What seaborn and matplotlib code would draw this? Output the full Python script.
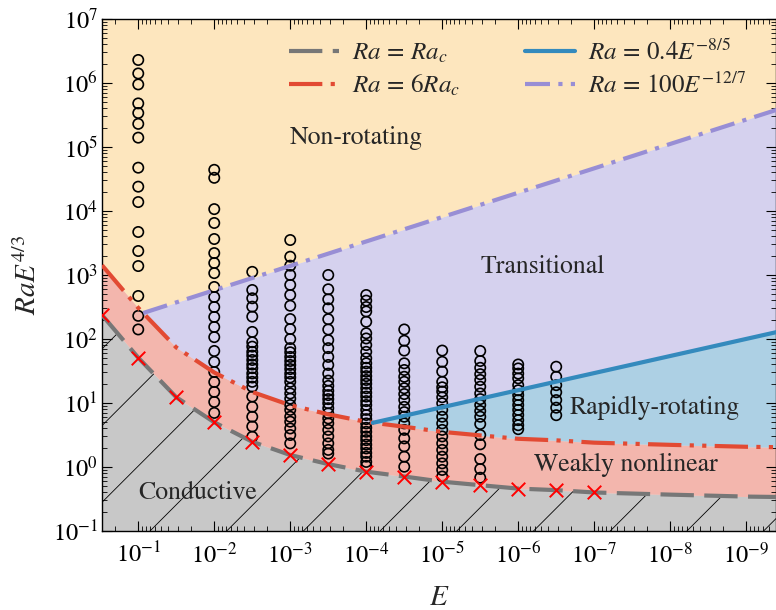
import numpy as np
import pandas as pd
import matplotlib
matplotlib.use("Agg")
import matplotlib.pyplot as plt
import seaborn as sns
from matplotlib.lines import Line2D
from matplotlib.ticker import NullFormatter

# ---------------- data ----------------
# Simulation columns: Ekman number and Ra*E^(4/3) of each run
E_cols = [1e-1, 1e-2, 3.16e-3, 1e-3, 3.16e-4, 1e-4, 3.16e-5, 1e-5, 3.16e-6, 1e-6, 3.16e-7]
y_cols = [
    [2.29e6, 1.41e6, 9.5e5, 4.8e5, 3.4e5, 2.3e5, 1.4e5, 4.75e4, 2.4e4, 1.38e4,
     4.7e3, 2.37e3, 1.38e3, 470, 230, 141],
    [4.4e4, 3.3e4, 1.07e4, 6.5e3, 3.65e3, 2.2e3, 1.54e3, 1.07e3, 650, 453, 316,
     221, 154, 107, 65, 44, 30.5, 21.3, 14.9, 10.4, 7.0],
    [1120, 583, 433, 320, 224, 129, 89, 76, 63, 55, 47, 40, 35, 29, 25, 21.4,
     18, 12.6, 8.7, 6.1, 4.3, 2.97],
    [3520, 1930, 1400, 1000, 700, 487, 331, 205, 143, 100, 72, 62, 52.5, 45.3,
     39.3, 33.9, 28.8, 25.1, 21.4, 17, 14.1, 11.7, 9.3, 7.8, 6.1, 5.1, 4.0,
     3.16, 2.34],
    [1000, 598, 417, 302, 204, 141, 96, 72, 52.5, 39.3, 28.8, 22.4, 18.5, 15.5,
     13.3, 11.5, 9.9, 8.3, 6.9, 5.75, 4.8, 3.8, 3.0, 2.34, 1.85, 1.62],
    [487, 398, 316, 269, 186, 123, 102, 80.5, 63, 50, 41.7, 35.5, 30.9, 26.3,
     22.9, 20, 17, 14.5, 12.6, 10.7, 9.3, 7.8, 6.5, 5.6, 4.8, 4.1, 3.55, 3.0,
     2.63, 2.24, 1.95, 1.66, 1.45, 1.2, 1.04],
    [141, 94, 66, 41.7, 32.8, 25.7, 21.4, 17, 13.8, 11.2, 8.7, 7.2, 6.1, 4.8,
     3.8, 2.8, 2.1, 1.45, 1.01],
    [66, 44, 31, 21.4, 17.6, 15.1, 12.3, 9.9, 7.8, 6.1, 4.8, 3.8, 3.0, 2.34,
     1.85, 1.45, 1.14, 0.9, 0.71],
    [65, 45.3, 35.5, 28.2, 22.9, 18, 14.1, 11.5, 9.3, 7.5, 6.1, 4.7, 3.16, 2.26,
     1.33, 0.93, 0.68],
    [40, 34.7, 28.8, 24.3, 19, 15.8, 13.3, 11.1, 9.3, 7.8, 6.5, 5.4, 4.5, 3.9],
    [36.9, 25.7, 19, 14.7, 11.1, 8.45, 6.45],
]

# Critical Rayleigh number (linear onset) markers
E_crit = [3e-1, 1e-1, 3.16e-2, 1e-2, 3.16e-3, 1e-3, 3.16e-4, 1e-4, 3.16e-5,
          1e-5, 3.16e-6, 1e-6, 3.16e-7, 1e-7]
y_crit = [237, 51, 12.3, 5.0, 2.48, 1.54, 1.11, 0.845, 0.71, 0.59, 0.52, 0.46,
          0.435, 0.40]

# Ra = Ra_c curve
E_rac = [3e-1, 1e-1, 3.16e-2, 1e-2, 3.16e-3, 1e-3, 3.16e-4, 1e-4, 3.16e-5,
         1e-5, 3.16e-6, 1e-6, 3.16e-7, 1e-7, 1e-8, 1e-9, 4e-10]
y_rac = [237, 51, 12.3, 5.0, 2.48, 1.54, 1.11, 0.845, 0.71, 0.59, 0.52, 0.46,
         0.435, 0.40, 0.37, 0.345, 0.34]
mult_6 = 6.0

# Ra = 0.4 E^(-8/5) (rapidly rotating bound), drawn above the 6Ra_c curve
E_blue = [8.2e-5, 4e-10]
y_blue = [4.9, 128]
# Ra = 100 E^(-12/7) (transitional bound)
E_purple = [8.6e-2, 4e-10]
y_purple = [255, 3.8e5]

# Region labels
region_names = ["Non-rotating", "Transitional", "Rapidly-rotating",
                "Weakly nonlinear", "Conductive"]
region_E = [1e-3, 4.7e-7, 1.6e-8, 3.8e-8, 1.67e-2]
region_y = [1.4e5, 1.33e3, 8.3, 1.07, 0.39]
region_ha = ["left", "center", "center", "center", "center"]

xlim = (0.3, 4.05e-10)
ylim = (0.1, 1e7)

# ---------------- style ----------------
sns.set_theme(style="ticks")
plt.rcParams.update({
    "font.family": ["STIXGeneral", "DejaVu Serif"],
    "mathtext.fontset": "stix",
    "xtick.direction": "in", "ytick.direction": "in",
    "xtick.top": True, "ytick.right": True,
    "xtick.minor.visible": True, "ytick.minor.visible": True,
    "xtick.major.size": 7, "ytick.major.size": 7,
    "xtick.minor.size": 3.5, "ytick.minor.size": 3.5,
    "xtick.major.width": 0.8, "ytick.major.width": 0.8,
    "xtick.minor.width": 0.6, "ytick.minor.width": 0.6,
    "xtick.major.pad": 8, "ytick.major.pad": 3,
    "xtick.color": "black", "ytick.color": "black",
    "axes.edgecolor": "black", "axes.linewidth": 1.0,
    "xtick.labelsize": 17.5, "ytick.labelsize": 17.5,
})

C_RED = "#E24A33"
C_BLUE = "#348ABD"
C_PURP = "#988ED5"
C_GRAY = "#777777"
C_YEL = "#FBC15E"
ALPHA = 0.4

fig = plt.figure(figsize=(7.76, 6.10), dpi=100)
ax = fig.add_axes([102 / 776, 1 - 531 / 610, 674 / 776, 512 / 610])
ax.set_xscale("log")
ax.set_yscale("log")
ax.set_xlim(*xlim)
ax.set_ylim(*ylim)
ax.xaxis.set_minor_formatter(NullFormatter())
ax.yaxis.set_minor_formatter(NullFormatter())

# ---------------- region fills ----------------
lx = np.linspace(np.log10(xlim[0]), np.log10(xlim[1]), 800)
Eg = 10 ** lx

def logi(Ex, yx):
    return 10 ** np.interp(-lx, -np.log10(Ex), np.log10(yx))

rac_g = logi(E_rac, y_rac)
rac6_g = mult_6 * rac_g
blue_g = logi(E_blue, y_blue)
purp_g = logi(E_purple, y_purple)
low_bound = np.maximum(blue_g, rac6_g)
trans_top = np.maximum(purp_g, low_bound)

cond = ax.fill_between(Eg, 1e-3, rac_g, color=C_GRAY, alpha=ALPHA, lw=0, zorder=0)
ax.fill_between(Eg, rac_g, rac6_g, color=C_RED, alpha=ALPHA, lw=0, zorder=0)
ax.fill_between(Eg, rac6_g, low_bound, color=C_BLUE, alpha=ALPHA, lw=0, zorder=0)
ax.fill_between(Eg, low_bound, trans_top, color=C_PURP, alpha=ALPHA, lw=0, zorder=0)
ax.fill_between(Eg, trans_top, 1e8, color=C_YEL, alpha=ALPHA, lw=0, zorder=0)

# sparse diagonal hatch for the conductive region
w_px, h_px = 674.0, 512.0
clip_path = cond.get_paths()[0]
for k in range(-2, 14):
    u0 = (-28.7 + 76.7 * k) / w_px
    ln, = ax.plot([u0, u0 + h_px / w_px], [0, 1], transform=ax.transAxes,
                  color="black", lw=0.6, zorder=0.5)
    ln.set_clip_path(clip_path, ax.transData)

# ---------------- curves ----------------
LS_GRAY = (0, (8, 2.5))
LS_RED = (0, (8, 2, 1, 2, 1, 2))
LS_PURP = (0, (6, 2, 1, 2))
E_rac_a = np.array(E_rac)
y_rac_a = np.array(y_rac)
sns.lineplot(x=E_rac_a, y=y_rac_a, ax=ax, color=C_GRAY, lw=3,
             linestyle=LS_GRAY, sort=False, estimator=None, zorder=3)
sns.lineplot(x=E_rac_a, y=mult_6 * y_rac_a, ax=ax, color=C_RED, lw=3,
             linestyle=LS_RED, sort=False, estimator=None, zorder=3)
sns.lineplot(x=E_blue, y=y_blue, ax=ax, color=C_BLUE, lw=3, sort=False,
             estimator=None, zorder=3)
sns.lineplot(x=E_purple, y=y_purple, ax=ax, color=C_PURP, lw=3,
             linestyle=LS_PURP, sort=False, estimator=None, zorder=3)

# ---------------- simulation points ----------------
pts = pd.DataFrame({
    "E": np.concatenate([[e] * len(v) for e, v in zip(E_cols, y_cols)]),
    "y": np.concatenate([np.array(v, float) for v in y_cols]),
})
sns.scatterplot(data=pts, x="E", y="y", ax=ax, marker="o", s=55,
                facecolor="none", edgecolor="black", linewidth=1.2, zorder=2.5)
sns.scatterplot(x=E_crit, y=y_crit, ax=ax, marker="x", s=95, color="red",
                linewidth=1.4, zorder=4, clip_on=True)

# ---------------- labels ----------------
for name, ex, ey, ha in zip(region_names, region_E, region_y, region_ha):
    ax.text(ex, ey, name, ha=ha, va="center", fontsize=18.5, zorder=5)

ax.set_xlabel("$E$", fontsize=21, labelpad=13)
ax.set_ylabel("$RaE^{4/3}$", fontsize=21, labelpad=8)

handles = [
    Line2D([], [], color=C_GRAY, lw=3, linestyle=LS_GRAY),
    Line2D([], [], color=C_RED, lw=3, linestyle=LS_RED),
    Line2D([], [], color=C_BLUE, lw=3),
    Line2D([], [], color=C_PURP, lw=3, linestyle=LS_PURP),
]
labels = [r"$Ra\,=\,Ra_c$", r"$Ra\,=\,6Ra_c$", r"$Ra\,=\,0.4E^{-8/5}$",
          r"$Ra\,=\,100E^{-12/7}$"]
ax.legend(handles, labels, ncol=2, loc="upper left",
          bbox_to_anchor=(0.278, 0.958), frameon=False, fontsize=18,
          handlelength=2.0, handletextpad=0.5, columnspacing=2.6,
          labelspacing=0.3, borderpad=0, borderaxespad=0)

fig.savefig("out.png", dpi=100)
